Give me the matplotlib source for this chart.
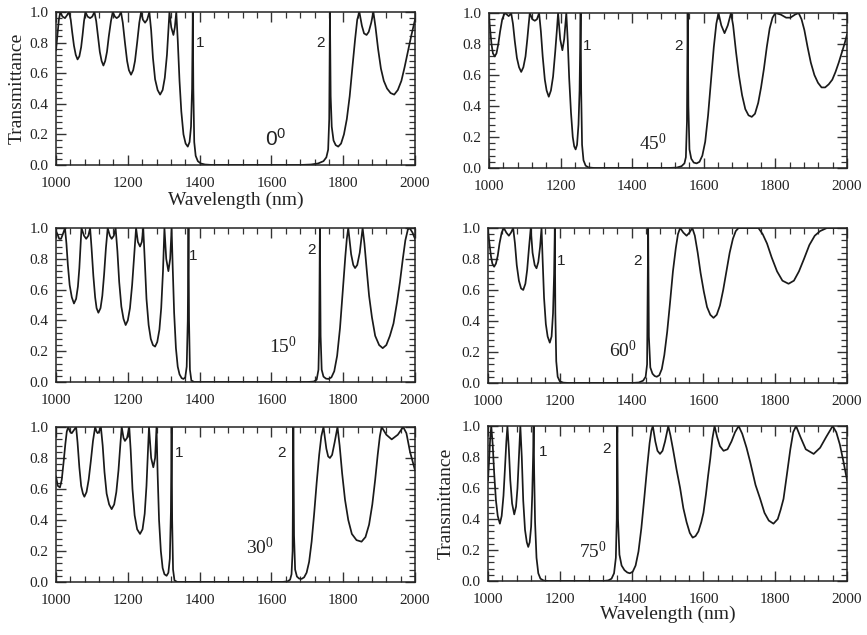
"""
Transmittance spectra of the filter at six angles of incidence
"""

import matplotlib
matplotlib.use('Agg')
import matplotlib.pyplot as plt
from matplotlib.ticker import MultipleLocator, FormatStrFormatter

# 0 degrees
wl_0 = [1000, 1004, 1008, 1012, 1018, 1025, 1031, 1036, 1041, 1045, 1050, 1055, 1060, 1065, 1070,
        1074, 1078, 1082, 1088, 1095, 1101, 1107, 1112, 1117, 1122, 1127, 1132, 1137, 1142, 1147,
        1153, 1158, 1164, 1169, 1175, 1181, 1186, 1192, 1198, 1203, 1209, 1215, 1220, 1226, 1232,
        1237, 1242, 1248, 1254, 1260, 1265, 1270, 1276, 1283, 1290, 1297, 1303, 1309, 1313, 1316,
        1321, 1327, 1331, 1335, 1339, 1344, 1349, 1355, 1361, 1367, 1372, 1376, 1379, 1381, 1382.5,
        1385, 1389, 1395, 1403, 1415, 1435, 1600, 1680, 1710, 1730, 1745, 1753, 1758, 1761, 1763,
        1765, 1768, 1773, 1779, 1786, 1794, 1802, 1810, 1818, 1826, 1833, 1839, 1845, 1852, 1858,
        1865, 1871, 1878, 1884, 1890, 1897, 1905, 1913, 1922, 1932, 1942, 1952, 1962, 1971, 1980,
        1990, 2000]
tr_0 = [0.75, 0.85, 0.95, 1.0, 0.97, 0.96, 0.98, 1.0, 0.95, 0.87, 0.78, 0.72, 0.69, 0.71, 0.77,
        0.85, 0.94, 1.0, 0.97, 0.96, 0.97, 1.0, 0.94, 0.84, 0.74, 0.68, 0.65, 0.68, 0.74, 0.84,
        0.94, 1.0, 0.97, 0.96, 0.97, 1.0, 0.93, 0.8, 0.68, 0.62, 0.59, 0.62, 0.68, 0.8, 0.93,
        1.0, 0.95, 0.93, 0.95, 1.0, 0.88, 0.7, 0.56, 0.49, 0.46, 0.49, 0.57, 0.72, 0.88, 1.0,
        0.9, 0.85, 0.9, 1.0, 0.82, 0.55, 0.35, 0.2, 0.14, 0.12, 0.15, 0.25, 0.5, 1.0, 0.5,
        0.15, 0.06, 0.025, 0.01, 0.003, 0.0, 0.0, 0.0, 0.003, 0.01, 0.025, 0.05, 0.1, 0.3, 1.0,
        0.45, 0.25, 0.16, 0.13, 0.12, 0.14, 0.2, 0.3, 0.45, 0.65, 0.82, 0.95, 1.0, 0.91, 0.86,
        0.85, 0.87, 0.93, 1.0, 0.9, 0.76, 0.63, 0.55, 0.5, 0.47, 0.46, 0.49, 0.55, 0.64, 0.74,
        0.85, 0.95]

# 45 degrees
wl_45 = [1000, 1003, 1007, 1011, 1016, 1021, 1026, 1031, 1037, 1044, 1050, 1055, 1059, 1062, 1067,
         1072, 1078, 1084, 1090, 1096, 1102, 1107, 1111, 1114, 1121, 1128, 1134, 1140, 1145, 1150,
         1156, 1161, 1167, 1173, 1179, 1185, 1190, 1193, 1199, 1205, 1210, 1216, 1220, 1224, 1229,
         1234, 1238, 1242, 1246, 1250, 1253, 1256, 1257.5, 1260, 1264, 1270, 1278, 1295, 1500, 1525,
         1538, 1546, 1550, 1553, 1555, 1557, 1560, 1565, 1572, 1580, 1588, 1596, 1604, 1612, 1620,
         1628, 1635, 1641, 1649, 1658, 1667, 1676, 1682, 1690, 1698, 1707, 1716, 1725, 1734, 1743,
         1752, 1760, 1768, 1776, 1784, 1792, 1800, 1815, 1830, 1842, 1855, 1865, 1873, 1881, 1890,
         1899, 1909, 1919, 1929, 1939, 1949, 1959, 1968, 1977, 1985, 1993, 2000]
tr_45 = [0.97, 0.9, 0.8, 0.74, 0.72, 0.74, 0.8, 0.88, 0.96, 1.0, 0.99, 0.98, 0.99, 1.0, 0.93,
         0.82, 0.71, 0.65, 0.62, 0.65, 0.72, 0.83, 0.93, 1.0, 0.96, 0.95, 0.96, 1.0, 0.88, 0.72,
         0.57, 0.5, 0.46, 0.5, 0.59, 0.75, 0.9, 1.0, 0.83, 0.76, 0.83, 1.0, 0.82, 0.58, 0.36,
         0.2, 0.14, 0.12, 0.15, 0.28, 0.5, 1.0, 0.5, 0.15, 0.05, 0.015, 0.004, 0.0, 0.0, 0.003,
         0.012, 0.03, 0.07, 0.3, 1.0, 0.4, 0.12, 0.06, 0.035, 0.03, 0.04, 0.08, 0.17, 0.34, 0.56,
         0.78, 0.93, 1.0, 0.92, 0.87, 0.92, 1.0, 0.92, 0.75, 0.6, 0.47, 0.38, 0.34, 0.33, 0.35,
         0.42, 0.52, 0.64, 0.78, 0.9, 0.97, 1.0, 0.99, 0.97, 0.97, 0.99, 1.0, 0.96, 0.89, 0.78,
         0.68, 0.6, 0.55, 0.52, 0.52, 0.54, 0.57, 0.62, 0.68, 0.74, 0.8, 0.86]

# 15 degrees
wl_15 = [1000, 1004, 1009, 1014, 1019, 1025, 1029, 1033, 1038, 1044, 1050, 1056, 1061, 1065, 1068,
         1071, 1078, 1084, 1090, 1095, 1099, 1104, 1109, 1113, 1118, 1124, 1129, 1134, 1139, 1144,
         1150, 1155, 1161, 1166, 1171, 1176, 1182, 1188, 1194, 1200, 1206, 1212, 1218, 1223, 1228,
         1234, 1239, 1243, 1247, 1252, 1258, 1264, 1270, 1276, 1282, 1288, 1293, 1298, 1302, 1307,
         1313, 1318, 1322, 1325, 1329, 1334, 1339, 1344, 1350, 1355, 1360, 1364, 1367, 1369, 1370.5,
         1373, 1377, 1385, 1700, 1718, 1726, 1731, 1733, 1735, 1737, 1740, 1745, 1752, 1759, 1767,
         1775, 1783, 1791, 1799, 1806, 1810, 1814, 1822, 1828, 1833, 1839, 1846, 1854, 1859, 1865,
         1872, 1880, 1889, 1900, 1910, 1920, 1930, 1940, 1950, 1958, 1966, 1973, 1980, 1985, 1993,
         2000]
tr_15 = [0.98, 0.96, 0.93, 0.93, 0.96, 1.0, 0.9, 0.76, 0.63, 0.55, 0.51, 0.54, 0.62, 0.74, 0.87,
         1.0, 0.95, 0.93, 0.95, 1.0, 0.87, 0.69, 0.55, 0.48, 0.45, 0.48, 0.56, 0.7, 0.87, 1.0,
         0.95, 0.93, 0.95, 1.0, 0.85, 0.65, 0.49, 0.41, 0.37, 0.4, 0.48, 0.63, 0.83, 1.0, 0.91,
         0.88, 0.91, 1.0, 0.8, 0.54, 0.37, 0.28, 0.24, 0.23, 0.26, 0.34, 0.48, 0.72, 1.0, 0.8,
         0.72, 0.8, 1.0, 0.75, 0.45, 0.22, 0.1, 0.05, 0.025, 0.02, 0.03, 0.1, 0.4, 1.0, 0.4,
         0.08, 0.01, 0.0, 0.0, 0.003, 0.015, 0.08, 0.3, 1.0, 0.3, 0.08, 0.035, 0.022, 0.02, 0.03,
         0.07, 0.17, 0.35, 0.6, 0.82, 0.93, 1.0, 0.83, 0.76, 0.74, 0.76, 0.84, 1.0, 0.9, 0.74,
         0.56, 0.42, 0.3, 0.24, 0.22, 0.24, 0.3, 0.38, 0.52, 0.65, 0.8, 0.92, 0.99, 1.0, 0.97,
         0.93]

# 60 degrees
wl_60 = [1000, 1004, 1008, 1012, 1017, 1022, 1027, 1032, 1038, 1044, 1051, 1058, 1064, 1070, 1075,
         1080, 1086, 1092, 1098, 1104, 1109, 1114, 1119, 1124, 1130, 1135, 1140, 1145, 1149, 1152,
         1156, 1161, 1166, 1172, 1177, 1181, 1184, 1186, 1187.5, 1190, 1194, 1200, 1210, 1225, 1400,
         1420, 1432, 1439, 1443, 1446, 1448, 1452, 1458, 1464, 1470, 1477, 1484, 1491, 1499, 1507,
         1515, 1523, 1529, 1535, 1544, 1553, 1561, 1569, 1576, 1584, 1592, 1601, 1610, 1619, 1628,
         1637, 1646, 1655, 1664, 1673, 1682, 1690, 1698, 1725, 1753, 1765, 1777, 1790, 1805, 1820,
         1837, 1852, 1866, 1880, 1895, 1910, 1925, 1944, 1970, 2000]
tr_60 = [0.98, 0.9, 0.82, 0.77, 0.75, 0.77, 0.82, 0.9, 0.97, 1.0, 0.97, 0.95, 0.97, 1.0, 0.9,
         0.76, 0.66, 0.61, 0.6, 0.64, 0.73, 0.87, 1.0, 0.84, 0.76, 0.74, 0.78, 0.88, 1.0, 0.8,
         0.55, 0.38, 0.3, 0.26, 0.3, 0.45, 0.7, 1.0, 0.45, 0.14, 0.04, 0.01, 0.002, 0.0, 0.0,
         0.003, 0.015, 0.04, 0.12, 1.0, 0.3, 0.1, 0.06, 0.045, 0.04, 0.05, 0.09, 0.18, 0.33, 0.52,
         0.72, 0.87, 0.96, 1.0, 0.97, 0.95, 0.97, 1.0, 0.95, 0.84, 0.71, 0.59, 0.49, 0.44, 0.42,
         0.44, 0.5, 0.6, 0.72, 0.84, 0.93, 0.98, 1.0, 1.0, 1.0, 0.96, 0.9, 0.81, 0.72, 0.66,
         0.64, 0.66, 0.72, 0.8, 0.89, 0.95, 0.98, 1.0, 1.0, 1.0]

# 30 degrees
wl_30 = [1000, 1005, 1011, 1016, 1021, 1026, 1030, 1034, 1039, 1044, 1050, 1056, 1060, 1065, 1070,
         1075, 1079, 1085, 1091, 1097, 1103, 1109, 1113, 1116, 1120, 1125, 1130, 1135, 1141, 1148,
         1155, 1162, 1168, 1174, 1179, 1183, 1188, 1192, 1198, 1204, 1208, 1213, 1219, 1226, 1234,
         1241, 1247, 1252, 1256, 1259, 1265, 1271, 1276, 1280, 1283, 1287, 1292, 1297, 1302, 1308,
         1313, 1317, 1320, 1322, 1323.5, 1326, 1330, 1338, 1630, 1645, 1652, 1656, 1659, 1661, 1663,
         1666, 1671, 1677, 1684, 1691, 1698, 1705, 1712, 1719, 1726, 1733, 1739, 1745, 1753, 1758,
         1763, 1769, 1776, 1784, 1790, 1797, 1805, 1814, 1824, 1837, 1851, 1862, 1872, 1881, 1889,
         1896, 1902, 1907, 1920, 1935, 1952, 1967, 1976, 1986, 1993, 2000]
tr_30 = [0.68, 0.62, 0.61, 0.66, 0.77, 0.89, 0.97, 1.0, 0.97, 0.96, 0.98, 1.0, 0.9, 0.74, 0.62,
         0.57, 0.55, 0.58, 0.66, 0.78, 0.91, 1.0, 0.97, 0.96, 0.97, 1.0, 0.88, 0.71, 0.57, 0.5,
         0.47, 0.5, 0.58, 0.72, 0.88, 1.0, 0.93, 0.91, 0.93, 1.0, 0.85, 0.6, 0.43, 0.34, 0.31,
         0.34, 0.44, 0.62, 0.84, 1.0, 0.8, 0.74, 0.8, 1.0, 0.7, 0.4, 0.2, 0.09, 0.05, 0.04,
         0.06, 0.15, 0.45, 1.0, 0.4, 0.08, 0.01, 0.0, 0.0, 0.004, 0.015, 0.05, 0.2, 1.0, 0.3,
         0.08, 0.035, 0.022, 0.02, 0.03, 0.06, 0.13, 0.26, 0.44, 0.64, 0.82, 0.94, 1.0, 0.86, 0.81,
         0.8, 0.82, 0.9, 1.0, 0.88, 0.7, 0.53, 0.4, 0.31, 0.27, 0.26, 0.29, 0.37, 0.5, 0.66,
         0.82, 0.94, 1.0, 0.95, 0.92, 0.95, 1.0, 0.96, 0.84, 0.78, 0.72]

# 75 degrees
wl_75 = [1000, 1003, 1006, 1009, 1013, 1017, 1022, 1027, 1033, 1038, 1043, 1047, 1051, 1054, 1058,
         1062, 1067, 1073, 1078, 1082, 1086, 1090, 1094, 1098, 1103, 1108, 1112, 1116, 1120, 1123,
         1125.5, 1127, 1128.5, 1131, 1135, 1140, 1146, 1155, 1170, 1320, 1335, 1344, 1351, 1356, 1358.5,
         1360, 1362, 1366, 1372, 1380, 1388, 1395, 1403, 1411, 1419, 1427, 1435, 1443, 1450, 1455,
         1459, 1466, 1472, 1479, 1486, 1493, 1502, 1508, 1516, 1525, 1535, 1544, 1553, 1562, 1570,
         1578, 1586, 1594, 1600, 1607, 1613, 1619, 1625, 1631, 1638, 1646, 1656, 1667, 1678, 1688,
         1698, 1708, 1720, 1730, 1745, 1758, 1770, 1782, 1795, 1807, 1815, 1823, 1832, 1842, 1850,
         1858, 1870, 1885, 1907, 1925, 1942, 1960, 1970, 1980, 1990, 2000]
tr_75 = [0.65, 0.78, 0.92, 1.0, 0.88, 0.7, 0.52, 0.42, 0.37, 0.42, 0.55, 0.72, 0.9, 1.0, 0.85,
         0.65, 0.5, 0.43, 0.48, 0.6, 0.8, 1.0, 0.8, 0.52, 0.33, 0.25, 0.22, 0.25, 0.35, 0.55,
         0.8, 1.0, 0.7, 0.38, 0.15, 0.05, 0.015, 0.003, 0.0, 0.0, 0.004, 0.015, 0.05, 0.15, 0.4,
         1.0, 0.4, 0.17, 0.1, 0.07, 0.055, 0.05, 0.06, 0.1, 0.19, 0.34, 0.53, 0.73, 0.89, 0.97,
         1.0, 0.9, 0.84, 0.82, 0.84, 0.9, 1.0, 0.94, 0.84, 0.72, 0.6, 0.47, 0.38, 0.31, 0.28,
         0.29, 0.32, 0.38, 0.44, 0.56, 0.68, 0.79, 0.92, 1.0, 0.93, 0.87, 0.84, 0.85, 0.9, 0.96,
         1.0, 0.95, 0.86, 0.77, 0.62, 0.53, 0.44, 0.39, 0.37, 0.4, 0.46, 0.53, 0.68, 0.85, 0.96,
         1.0, 0.93, 0.85, 0.82, 0.86, 0.93, 1.0, 0.96, 0.88, 0.77, 0.65]

# angle label and positions of the "1", "2" and angle texts (wavelength, transmittance)
angles = ['0', '45', '15', '60', '30', '75']
mark1_pos = [(1401, 0.80), (1274, 0.79), (1382, 0.82), (1203, 0.79), (1343, 0.83), (1153, 0.83)]
mark2_pos = [(1738, 0.80), (1528, 0.79), (1713, 0.86), (1415, 0.79), (1629, 0.83), (1331, 0.85)]
angle_pos = [(1612, 0.17), (1458, 0.16), (1632, 0.23), (1376, 0.21), (1568, 0.22), (1293, 0.19)]

serif = 'Liberation Serif'
sans = 'Liberation Sans'
ink = '#222222'

fig = plt.figure(figsize=(8.67, 6.35), dpi=100)

# axes rectangles [left, bottom, width, height] in figure fraction
rects = [[0.0646, 0.7402, 0.4141, 0.2409],
         [0.5640, 0.7354, 0.4129, 0.2441],
         [0.0646, 0.3984, 0.4141, 0.2425],
         [0.5629, 0.3969, 0.4141, 0.2441],
         [0.0646, 0.0835, 0.4141, 0.2441],
         [0.5629, 0.0850, 0.4141, 0.2441]]

curves = [(wl_0, tr_0), (wl_45, tr_45), (wl_15, tr_15),
          (wl_60, tr_60), (wl_30, tr_30), (wl_75, tr_75)]

for i, rect in enumerate(rects):
    ax = fig.add_axes(rect)
    wl, tr = curves[i]
    ax.plot(wl, tr, color='#1a1a1a', lw=1.25, solid_joinstyle='round')

    ax.set_xlim(1000, 2000)
    ax.set_ylim(0.0, 1.0)
    ax.xaxis.set_major_locator(MultipleLocator(200))
    ax.xaxis.set_minor_locator(MultipleLocator(40))
    ax.yaxis.set_major_locator(MultipleLocator(0.2))
    ax.yaxis.set_minor_locator(MultipleLocator(0.04))
    ax.yaxis.set_major_formatter(FormatStrFormatter('%.1f'))
    ax.tick_params(which='both', direction='in', top=True, right=True, color='#333333')
    ax.tick_params(which='major', length=7.5, width=1.0)
    ax.tick_params(which='minor', length=4, width=0.9)
    ax.tick_params(axis='x', pad=8.5)
    ax.tick_params(axis='y', pad=5.5)
    for lab in ax.get_xticklabels() + ax.get_yticklabels():
        lab.set_fontfamily(serif)
        lab.set_fontsize(11)
        lab.set_color(ink)
    for sp in ax.spines.values():
        sp.set_linewidth(1.1)
        sp.set_color(ink)

    # peak markers
    ax.text(*mark1_pos[i], '1', family=sans, fontsize=11, color=ink, ha='center', va='center')
    ax.text(*mark2_pos[i], '2', family=sans, fontsize=11, color=ink, ha='center', va='center')
    if angles[i] == '0':
        ax.text(*angle_pos[i], r'$\mathregular{0^{0}}$', family=sans, fontsize=15,
                color=ink, ha='center', va='center')
    else:
        ax.text(*angle_pos[i], r'$\mathregular{%s^{0}}$' % angles[i], family=serif,
                fontsize=14, color=ink, ha='center', va='center')

    if i in (0, 5):
        ax.set_xlabel('Wavelength (nm)', family=serif, fontsize=14, color=ink)
        ax.set_ylabel('Transmittance', family=serif, fontsize=14, color=ink)
        ax.xaxis.set_label_coords(0.5, -0.176 if i == 0 else -0.16)
        ax.yaxis.set_label_coords(-0.084 if i == 0 else -0.092, 0.5)

fig.savefig('out.png', dpi=100)
